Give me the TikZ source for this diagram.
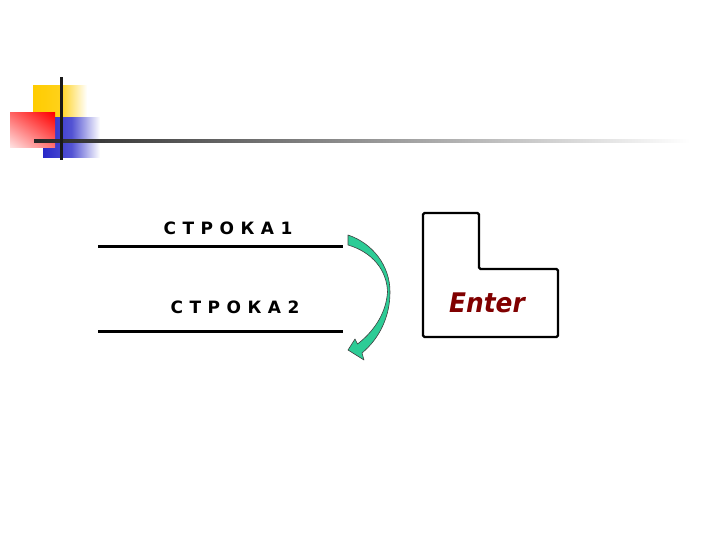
\documentclass[tikz,border=0pt]{standalone}
\usepackage{fontspec}
\setmainfont{DejaVu Sans}
\usetikzlibrary{shadings}
\definecolor{arrowgreen}{RGB}{45,204,150}
\definecolor{enterred}{RGB}{128,0,0}
\definecolor{sqyellow}{RGB}{255,204,0}
\definecolor{sqblue}{RGB}{40,40,200}
\newcommand{\lsp}{\hspace{6.5pt}}
\begin{document}
\begin{tikzpicture}[x=1pt,y=-1pt,
  rowlabel/.style={font=\fontsize{17}{19}\selectfont\bfseries, inner sep=0pt},
  rowline/.style={line width=3pt},
  keyshape/.style={line width=2.2pt, rounded corners=1.5pt},
  bendarrow/.style={fill=arrowgreen, draw=black!75, line width=0.6pt, line join=round}]
\useasboundingbox (0,0) rectangle (720,540);
% decoration squares
\shade[left color=sqyellow, right color=white, middle color=sqyellow!90] (33,86) rectangle (87,122);
\shade[left color=sqblue, right color=white, middle color=sqblue!80] (43,118) rectangle (100,158);
\shade[upper right=red, lower left=red!10, upper left=red!60, lower right=red!55] (10,113) rectangle (55,148);
\shade[left color=black!85, middle color=black!55, right color=white] (34,139.5) rectangle (690,142.5);
\fill[black!90] (59.5,77) rectangle (62.5,160);
% rows
\node[rowlabel] (t1) at (228,228) {С\lsp Т\lsp Р\lsp О\lsp К\lsp А\lsp 1};
\node[rowlabel] (t2) at (235,307) {С\lsp Т\lsp Р\lsp О\lsp К\lsp А\lsp 2};
\coordinate (l1a) at (98,246); \coordinate (l1b) at (343,246);
\coordinate (l2a) at (98,331); \coordinate (l2b) at (343,331);
\draw[rowline] (l1a) -- (l1b);
\draw[rowline] (l2a) -- (l2b);
% curved arrow
\draw[bendarrow] (348,235) .. controls (372,243) and (390,265) .. (390,292)
  .. controls (390,316) and (380,338) .. (362,353)
  -- (364,360) -- (348,350) -- (355,339) -- (357.5,344)
  .. controls (372,333) and (386,315) .. (387.5,292)
  .. controls (387,270) and (372,252) .. (348,245) -- cycle;
% Enter key
\draw[keyshape] (423,213) -- (479,213) -- (479,269) -- (558,269) -- (558,337) -- (423,337) -- cycle;
\node[font=\fontsize{27}{30}\selectfont\bfseries\itshape, text=enterred, inner sep=0pt, xscale=0.92] (enter) at (487,303) {Enter};
\end{tikzpicture}
\end{document}
